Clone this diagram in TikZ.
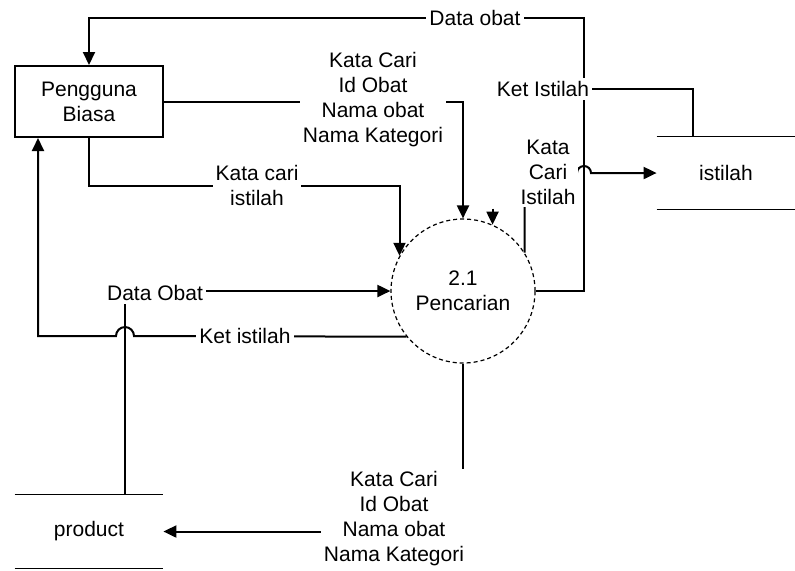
\documentclass[tikz,border=0pt]{standalone}
\usepackage{fontspec}
\setmainfont{Liberation Sans}
\usetikzlibrary{calc, positioning, arrows.meta}

\begin{document}
\begin{tikzpicture}[x=0.5pt, y=-0.5pt, >={Triangle[length=6.5pt, width=6pt]},
  font=\fontsize{10.5}{12.5}\selectfont,
  flow/.style={line width=1pt},
  lbl/.style={fill=white, inner sep=1.5pt, align=center}]
  \useasboundingbox (0,0) rectangle (795,570);

  % entitas, proses dan data store
  \node[draw, line width=1pt, minimum width=74pt, minimum height=35.5pt,
        align=center] (user) at (89,101.5) {Pengguna\\Biasa};
  \node[circle, draw, line width=0.6pt, dash pattern=on 2pt off 1.5pt,
        minimum size=72pt, align=center] (proc) at (463,291) {2.1\\Pencarian};
  \node[minimum width=69pt, minimum height=36pt] (istilah) at (726,173) {istilah};
  \node[minimum width=74pt, minimum height=36.5pt] (product) at (89,531.5) {product};
  \draw[line width=0.8pt] (istilah.north west) -- (istilah.north east)
                          (istilah.south west) -- (istilah.south east);
  \draw[line width=0.8pt] (product.north west) -- (product.north east)
                          (product.south west) -- (product.south east);

  % aliran data
  \draw[->, flow] (user.east) -| (proc.north);
  \draw[->, flow] (user.south) -- ++(0,48) -| (proc.151);
  \draw[->, flow] (proc.east) -| (584,18) -| (user.north);
  \draw[flow] ($(istilah.north)+(-33,0)$) |- (500,89);
  \coordinate (ketend) at ($(proc.66)+(0,-16)$);
  \draw[->, flow] (ketend) -- (proc.66);
  \draw[->, flow] (proc.32) |- (577,173)
    arc[start angle=180, end angle=0, radius=3.5pt] -- (istilah.west);
  \draw[->, flow] ($(product.north)+(36,0)$) |- (proc.west);
  \draw[->, flow] (proc.219) -- (134,336)
    arc[start angle=0, end angle=180, radius=4.5pt]
    -| ($(user.south west)+(24,0)$);
  \draw[->, flow] (proc.south) |- (product.east);

  % label aliran
  \node[lbl] (lblTop) at (373,100) {Kata Cari\\Id Obat\\Nama obat\\Nama Kategori};
  \node[lbl] (lblKci) at (257,185) {Kata cari\\istilah};
  \node[lbl] (lblDob) at (475,18) {Data obat};
  \node[lbl] (lblKet) at (543,89) {Ket Istilah};
  \node[lbl] (lblKcs) at (548,172) {Kata\\Cari\\Istilah};
  \node[lbl] (lblDO) at (155,293) {Data Obat};
  \node[lbl] (lblKis) at (245,336) {Ket istilah};
  \node[lbl] (lblBot) at (394,519) {Kata Cari\\Id Obat\\Nama obat\\Nama Kategori};
\end{tikzpicture}
\end{document}
